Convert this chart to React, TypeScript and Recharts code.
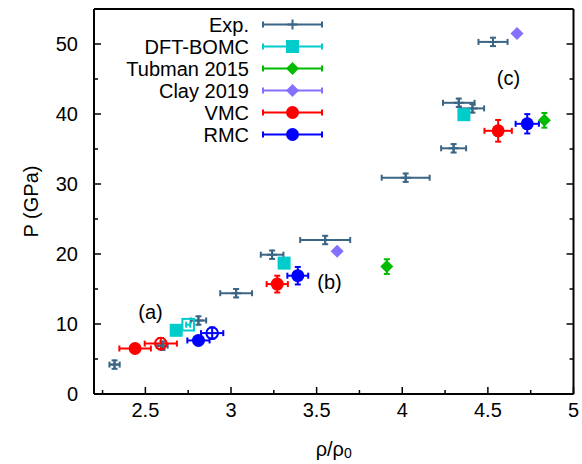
import React from 'react';
import { ScatterChart, Scatter, XAxis, YAxis, ErrorBar, Legend, ReferenceDot } from 'recharts';

const FONT = '"Liberation Sans", Arial, Helvetica, sans-serif';

// Experimental isotherm
const EXP_RHO = [2.32, 2.6, 2.81, 3.03, 3.24, 3.55, 4.02, 4.3, 4.33, 4.41, 4.53];
const EXP_P = [4.2, 6.9, 10.5, 14.4, 19.9, 22.0, 30.9, 35.1, 41.6, 40.8, 50.3];
const EXP_RHO_ERR = [0.03, 0.03, 0.045, 0.093, 0.066, 0.146, 0.14, 0.073, 0.092, 0.068, 0.085];
const EXP_P_ERR = [0.6, 0.6, 0.6, 0.6, 0.6, 0.6, 0.6, 0.6, 0.6, 0.6, 0.6];

// DFT-BOMC (filled) and the open-square point
const DFT_RHO = [2.68, 3.31, 4.36];
const DFT_P = [9.1, 18.7, 39.9];
const DFT_OPEN_RHO = [2.75];
const DFT_OPEN_P = [9.9];

const TUBMAN_RHO = [3.91, 4.83];
const TUBMAN_P = [18.2, 39.1];
const TUBMAN_P_ERR = [1.05, 1.05];

const CLAY_RHO = [3.62, 4.67];
const CLAY_P = [20.4, 51.5];

const VMC_RHO = [2.44, 3.27, 4.56];
const VMC_P = [6.5, 15.7, 37.6];
const VMC_RHO_ERR = [0.092, 0.062, 0.08];
const VMC_P_ERR = [0.5, 1.2, 1.55];
const VMC_OPEN_RHO = [2.59];
const VMC_OPEN_P = [7.2];
const VMC_OPEN_RHO_ERR = [0.094];
const VMC_OPEN_P_ERR = [0.8];

const RMC_RHO = [2.81, 3.39, 4.73];
const RMC_P = [7.65, 16.9, 38.6];
const RMC_RHO_ERR = [0.065, 0.061, 0.068];
const RMC_P_ERR = [0.5, 1.25, 1.38];
const RMC_OPEN_RHO = [2.89];
const RMC_OPEN_P = [8.7];
const RMC_OPEN_RHO_ERR = [0.065];
const RMC_OPEN_P_ERR = [0.8];

const X_TICKS = [2.25, 2.5, 2.75, 3, 3.25, 3.5, 3.75, 4, 4.25, 4.5, 4.75, 5];
const X_LABELED = [2.5, 3, 3.5, 4, 4.5, 5];
const Y_TICKS = [0, 5, 10, 15, 20, 25, 30, 35, 40, 45, 50];
const Y_LABELED = [0, 10, 20, 30, 40, 50];

const PANEL_LABELS = ['(a)', '(b)', '(c)'];
const PANEL_RHO = [2.53, 3.575, 4.62];
const PANEL_P = [11.8, 16.0, 45.1];

const C_EXP = '#3b6584';
const C_DFT = '#00cccc';
const C_TUB = '#00bb00';
const C_CLAY = '#8470ff';
const C_VMC = '#ff0000';
const C_RMC = '#0000ff';

const pts = (xs: number[], ys: number[], dx?: number[], dy?: number[]) =>
  xs.map((x, i) => ({ x, y: ys[i], dx: dx ? dx[i] : 0, dy: dy ? dy[i] : 0 }));

type Marker = (cx: number, cy: number) => React.ReactElement;

const plus = (c: string): Marker => (cx, cy) => (
  <path d={`M${cx - 5},${cy}H${cx + 5}M${cx},${cy - 5}V${cy + 5}`} stroke={c} strokeWidth={2} fill="none" />
);
const dot = (c: string): Marker => (cx, cy) => <circle cx={cx} cy={cy} r={6.5} fill={c} />;
const ring = (c: string): Marker => (cx, cy) => (
  <circle cx={cx} cy={cy} r={5.8} fill="none" stroke={c} strokeWidth={2} />
);
const box = (c: string): Marker => (cx, cy) => <rect x={cx - 6.5} y={cy - 6.5} width={13} height={13} fill={c} />;
const openBox = (c: string): Marker => (cx, cy) => (
  <rect x={cx - 5.8} y={cy - 5.8} width={11.6} height={11.6} fill="none" stroke={c} strokeWidth={2} />
);
const diamond = (c: string): Marker => (cx, cy) => (
  <path d={`M${cx},${cy - 6.5}L${cx + 6.5},${cy}L${cx},${cy + 6.5}L${cx - 6.5},${cy}Z`} fill={c} />
);

const shapeOf = (m: Marker) => (p: any) => m(p.cx, p.cy);

const LEGEND = [
  { name: 'Exp.', color: C_EXP, marker: plus(C_EXP) },
  { name: 'DFT-BOMC', color: C_DFT, marker: box(C_DFT) },
  { name: 'Tubman 2015', color: C_TUB, marker: diamond(C_TUB) },
  { name: 'Clay 2019', color: C_CLAY, marker: diamond(C_CLAY) },
  { name: 'VMC', color: C_VMC, marker: dot(C_VMC) },
  { name: 'RMC', color: C_RMC, marker: dot(C_RMC) },
];

const LegendBox = () => (
  <svg width={340} height={150} style={{ display: 'block' }}>
    {LEGEND.map((s, i) => {
      const cy = 24.5 + i * 22;
      return (
        <g key={s.name}>
          <text x={249} y={cy + 7} textAnchor="end" fontSize={20} fontFamily={FONT} fill="#000">
            {s.name}
          </text>
          <path
            d={`M263,${cy}H322M263,${cy - 3}V${cy + 3}M322,${cy - 3}V${cy + 3}`}
            stroke={s.color}
            strokeWidth={2}
            fill="none"
          />
          {s.marker(292.5, cy)}
        </g>
      );
    })}
  </svg>
);

const MAJOR = 7;
const MINOR = 4;

const BottomTick = (p: any) => {
  const v = p.payload.value;
  const major = X_LABELED.includes(v);
  return (
    <g>
      <line x1={p.x} x2={p.x} y1={p.y} y2={p.y - (major ? MAJOR : MINOR)} stroke="#000" strokeWidth={1.5} />
      {major && (
        <text x={p.x} y={p.y + 23} textAnchor="middle" fontSize={20} fontFamily={FONT} fill="#000">
          {String(v)}
        </text>
      )}
    </g>
  );
};

const TopTick = (p: any) => {
  const major = X_LABELED.includes(p.payload.value);
  return <line x1={p.x} x2={p.x} y1={p.y} y2={p.y + (major ? MAJOR : MINOR)} stroke="#000" strokeWidth={1.5} />;
};

const LeftTick = (p: any) => {
  const v = p.payload.value;
  const major = Y_LABELED.includes(v);
  return (
    <g>
      <line x1={p.x} x2={p.x + (major ? MAJOR : MINOR)} y1={p.y} y2={p.y} stroke="#000" strokeWidth={1.5} />
      {major && (
        <text x={p.x - 16} y={p.y + 7} textAnchor="end" fontSize={20} fontFamily={FONT} fill="#000">
          {String(v)}
        </text>
      )}
    </g>
  );
};

const RightTick = (p: any) => {
  const major = Y_LABELED.includes(p.payload.value);
  return <line x1={p.x} x2={p.x - (major ? MAJOR : MINOR)} y1={p.y} y2={p.y} stroke="#000" strokeWidth={1.5} />;
};

const yTitle = (props: any) => {
  const vb = props.viewBox || { x: 0, y: 9, width: 94, height: 385 };
  const x = vb.x + 38;
  const y = vb.y + vb.height / 2;
  return (
    <text x={x} y={y} transform={`rotate(-90 ${x} ${y})`} textAnchor="middle" fontSize={20} fontFamily={FONT} fill="#000">
      P (GPa)
    </text>
  );
};

const xTitle = (props: any) => {
  const vb = props.viewBox || { x: 94, y: 394, width: 479.5, height: 70 };
  const x = vb.x + vb.width / 2;
  const y = vb.y + 62;
  return (
    <text x={x} y={y} textAnchor="middle" fontSize={20} fontFamily={FONT} fill="#000">
      ρ/ρ<tspan fontSize={14} dy={2}>0</tspan>
    </text>
  );
};

const frame = { stroke: '#000', strokeWidth: 2 };

const bars = (color: string, x: boolean, y: boolean) => [
  x ? (
    <ErrorBar key="ex" dataKey="dx" direction="x" width={3} stroke={color} strokeWidth={2} isAnimationActive={false} />
  ) : null,
  y ? (
    <ErrorBar key="ey" dataKey="dy" direction="y" width={3} stroke={color} strokeWidth={2} isAnimationActive={false} />
  ) : null,
];

export default function App() {
  return (
    <div style={{ position: 'absolute', left: 0, top: 0, width: 582, height: 464, background: '#fff' }}>
      <ScatterChart width={582} height={464} margin={{ top: 0, right: 0, bottom: 0, left: 0 }} style={{ fontFamily: FONT }}>
        <XAxis
          dataKey="x"
          type="number"
          domain={[2.2, 5]}
          allowDataOverflow
          ticks={X_TICKS}
          interval={0}
          height={70}
          tickSize={0}
          tickMargin={0}
          tickLine={false}
          axisLine={frame}
          tick={BottomTick}
          label={xTitle}
        />
        <XAxis
          xAxisId="top"
          orientation="top"
          type="number"
          domain={[2.2, 5]}
          allowDataOverflow
          ticks={X_TICKS}
          interval={0}
          height={9}
          tickSize={0}
          tickMargin={0}
          tickLine={false}
          axisLine={frame}
          tick={TopTick}
        />
        <YAxis
          dataKey="y"
          type="number"
          domain={[0, 55]}
          allowDataOverflow
          ticks={Y_TICKS}
          interval={0}
          width={94}
          tickSize={0}
          tickMargin={0}
          tickLine={false}
          axisLine={frame}
          tick={LeftTick}
          label={yTitle}
        />
        <YAxis
          yAxisId="right"
          orientation="right"
          type="number"
          domain={[0, 55]}
          allowDataOverflow
          ticks={Y_TICKS}
          interval={0}
          width={8.5}
          tickSize={0}
          tickMargin={0}
          tickLine={false}
          axisLine={frame}
          tick={RightTick}
        />

        <Scatter data={pts(EXP_RHO, EXP_P, EXP_RHO_ERR, EXP_P_ERR)} shape={shapeOf(plus(C_EXP))} isAnimationActive={false}>
          {bars(C_EXP, true, true)}
        </Scatter>
        <Scatter data={pts(DFT_RHO, DFT_P)} shape={shapeOf(box(C_DFT))} isAnimationActive={false} />
        <Scatter data={pts(DFT_OPEN_RHO, DFT_OPEN_P, [0.012])} shape={shapeOf(openBox(C_DFT))} isAnimationActive={false}>
          {bars(C_DFT, true, false)}
        </Scatter>
        <Scatter data={pts(TUBMAN_RHO, TUBMAN_P, undefined, TUBMAN_P_ERR)} shape={shapeOf(diamond(C_TUB))} isAnimationActive={false}>
          {bars(C_TUB, false, true)}
        </Scatter>
        <Scatter data={pts(CLAY_RHO, CLAY_P)} shape={shapeOf(diamond(C_CLAY))} isAnimationActive={false} />
        <Scatter data={pts(VMC_RHO, VMC_P, VMC_RHO_ERR, VMC_P_ERR)} shape={shapeOf(dot(C_VMC))} isAnimationActive={false}>
          {bars(C_VMC, true, true)}
        </Scatter>
        <Scatter
          data={pts(VMC_OPEN_RHO, VMC_OPEN_P, VMC_OPEN_RHO_ERR, VMC_OPEN_P_ERR)}
          shape={shapeOf(ring(C_VMC))}
          isAnimationActive={false}
        >
          {bars(C_VMC, true, true)}
        </Scatter>
        <Scatter data={pts(RMC_RHO, RMC_P, RMC_RHO_ERR, RMC_P_ERR)} shape={shapeOf(dot(C_RMC))} isAnimationActive={false}>
          {bars(C_RMC, true, true)}
        </Scatter>
        <Scatter
          data={pts(RMC_OPEN_RHO, RMC_OPEN_P, RMC_OPEN_RHO_ERR, RMC_OPEN_P_ERR)}
          shape={shapeOf(ring(C_RMC))}
          isAnimationActive={false}
        >
          {bars(C_RMC, true, true)}
        </Scatter>

        {PANEL_LABELS.map((t, i) => (
          <ReferenceDot
            key={t}
            x={PANEL_RHO[i]}
            y={PANEL_P[i]}
            r={0}
            fill="none"
            stroke="none"
            label={{ value: t, position: 'center', fontSize: 20, fill: '#000', fontFamily: FONT }}
          />
        ))}

        <Legend
          layout="vertical"
          align="center"
          verticalAlign="middle"
          wrapperStyle={{ left: 0, top: 0, width: 340, height: 150 }}
          content={() => <LegendBox />}
        />
      </ScatterChart>
    </div>
  );
}
